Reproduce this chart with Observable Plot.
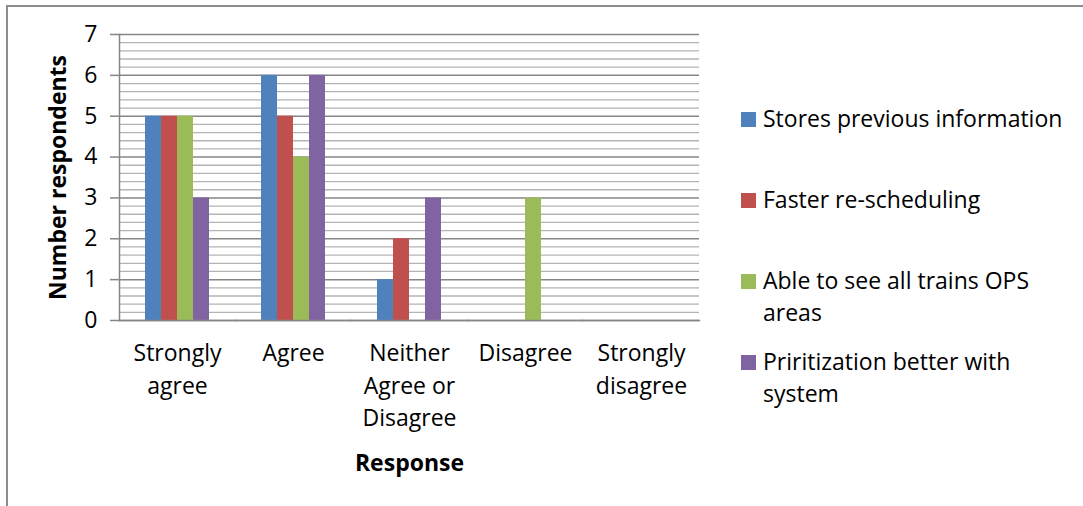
<!DOCTYPE html>
<html>
<head>
<meta charset="utf-8">
<script src="https://cdn.jsdelivr.net/npm/d3@7"></script>
<script src="https://cdn.jsdelivr.net/npm/@observablehq/plot@0.6"></script>
<style>
  html, body { margin: 0; padding: 0; background: #fff; }
  #wrap { position: relative; width: 1083px; height: 506px; overflow: hidden; font-family: "Open Sans", sans-serif; color: #000; }
  #border { position: absolute; left: 6px; top: 5px; width: 1200px; height: 700px; border-top: 2px solid #8c8c8c; border-left: 2px solid #8c8c8c; box-sizing: border-box; }
  #chart { position: absolute; left: 0; top: 0; }
  #chart g[aria-label$="axis label"] text { font-weight: bold; }
  #legend { position: absolute; left: 741px; top: 103px; width: 340px; }
  .item { position: relative; height: 81px; font-size: 23px; line-height: 32px; }
  .sw { position: absolute; left: 0; top: 9px; width: 15px; height: 15px; }
  .lab { position: absolute; left: 22px; top: -1px; width: 312px; }
</style>
</head>
<body>
<div id="wrap">
  <div id="border"></div>
  <div id="chart"></div>
  <div id="legend"></div>
</div>
<script>
const categories = ["Strongly agree", "Agree", "Neither Agree or Disagree", "Disagree", "Strongly disagree"];
const categoryLabels = ["Strongly\nagree", "Agree", "Neither\nAgree or\nDisagree", "Disagree", "Strongly\ndisagree"];
const series = ["Stores previous information", "Faster re-scheduling", "Able to see all trains OPS areas", "Priritization better with system"];
const colors = ["#4F81BD", "#C0504D", "#9BBB59", "#8064A2"];
const storesPrevious = [5, 6, 1, 0, 0];
const fasterRescheduling = [5, 5, 2, 0, 0];
const ableToSeeAll = [5, 4, 0, 3, 0];
const prioritization = [3, 6, 3, 0, 0];
const yTicks = [0, 1, 2, 3, 4, 5, 6, 7];
const minorTicks = [0.2, 0.4, 0.6, 0.8, 1.2, 1.4, 1.6, 1.8, 2.2, 2.4, 2.6, 2.8, 3.2, 3.4, 3.6, 3.8,
                    4.2, 4.4, 4.6, 4.8, 5.2, 5.4, 5.6, 5.8, 6.2, 6.4, 6.6, 6.8];

const seriesValues = [storesPrevious, fasterRescheduling, ableToSeeAll, prioritization];
const data = categories.flatMap((c, i) => series.map((s, j) => ({category: c, series: s, value: seriesValues[j][i]})));

const chart = Plot.plot({
  width: 1083,
  height: 506,
  marginLeft: 119,
  marginRight: 384,
  marginTop: 34,
  marginBottom: 186,
  style: {fontFamily: "'Open Sans', sans-serif", fontSize: "23px", color: "#000", background: "transparent", overflow: "visible"},
  fx: {domain: categories, padding: 0, label: null, axis: null},
  x: {domain: series, paddingInner: 0, paddingOuter: 1.52, axis: null},
  y: {domain: [0, 7], label: null, axis: null},
  color: {domain: series, range: colors},
  marks: [
    Plot.ruleY(minorTicks, {stroke: "#b4b4b4", strokeWidth: 1.3}),
    Plot.ruleY(yTicks, {stroke: "#868686", strokeWidth: 1.5}),
    Plot.barY(data, {fx: "category", x: "series", y: "value", fill: "series"}),
    Plot.frame({anchor: "left", facetAnchor: "left", stroke: "#868686", strokeWidth: 1.5}),
    Plot.frame({anchor: "bottom", stroke: "#868686", strokeWidth: 1.5}),
    Plot.axisY({ticks: yTicks, tickFormat: d3.format("d"), tickSize: 9, tickPadding: 13, stroke: "#868686", strokeWidth: 1.5,
      label: "Number respondents", labelAnchor: "center", labelArrow: "none", labelOffset: 70}),
    Plot.axisFx({anchor: "bottom", tickSize: 0, tickPadding: 18, lineHeight: 1.4,
      tickFormat: d => categoryLabels[categories.indexOf(d)],
      label: "Response", labelAnchor: "center", labelArrow: "none", labelOffset: 150})
  ]
});
document.getElementById("chart").appendChild(chart);

const legend = document.getElementById("legend");
series.forEach((s, i) => {
  const item = document.createElement("div");
  item.className = "item";
  item.innerHTML = `<div class="sw" style="background:${colors[i]}"></div><div class="lab">${s}</div>`;
  legend.appendChild(item);
});
</script>
</body>
</html>
